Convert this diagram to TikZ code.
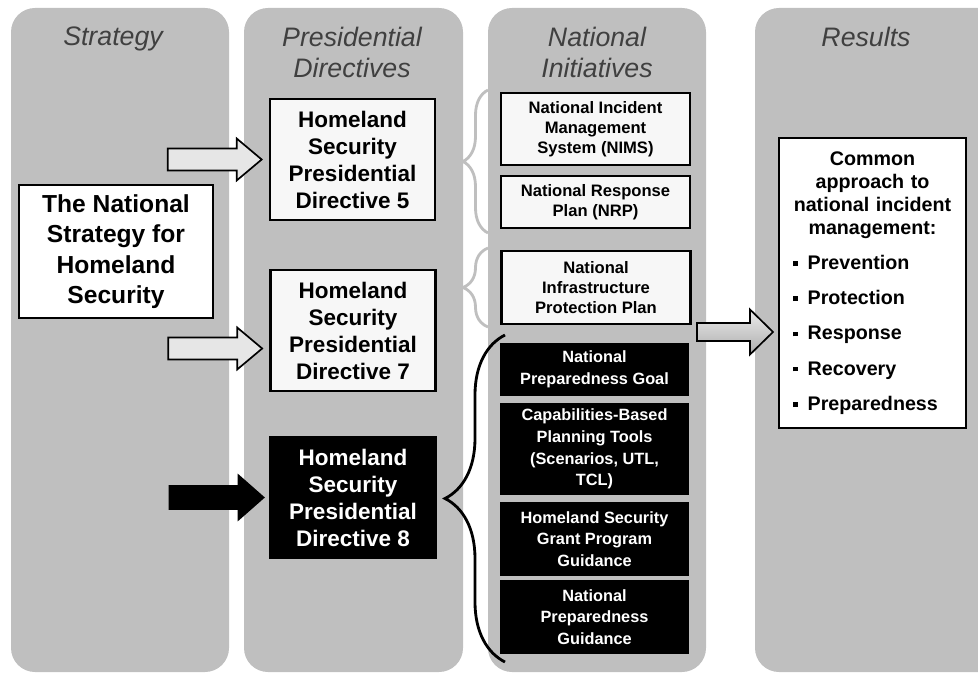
\documentclass[tikz,border=0pt]{standalone}
\usepackage{fontspec}
\setmainfont{Liberation Sans}
\usetikzlibrary{decorations.pathreplacing}

\definecolor{colgray}{HTML}{BFBFBF}
\definecolor{headgray}{HTML}{404040}
\definecolor{boxwhite}{HTML}{F7F7F7}
\definecolor{arrowgray}{HTML}{E6E6E6}

% block arrow: style, tip, head half width, shaft half width, head length, shaft length
\newcommand{\blockarrow}[6]{\draw[#1] (#2) -- ++(-#5,-#3) -- ++(0,#3-#4) -- ++(-#6,0) -- ++(0,2*#4) -- ++(#6,0) -- ++(0,#3-#4) -- cycle;}
\newcommand{\sqbullet}{\rule[2.6pt]{3.4pt}{3.4pt}\hspace{7pt}}

\begin{document}
\begin{tikzpicture}[x=0.025cm,y=-0.025cm,
    col/.style={fill=colgray,rounded corners=0.6cm},
    head/.style={anchor=north,inner sep=0,align=center,text=headgray,font=\fontsize{19}{22}\selectfont\itshape},
    pdbox/.style={draw,line width=1.8pt,fill=boxwhite,minimum width=4.125cm,minimum height=3.025cm,align=center,font=\fontsize{16}{19.2}\selectfont\bfseries},
    initbox/.style={draw,line width=1.5pt,fill=boxwhite,minimum width=4.725cm,align=center,font=\fontsize{11.8}{14.2}\selectfont\bfseries},
    blackbox/.style={fill=black,text=white,minimum width=4.725cm,align=center,font=\fontsize{11.6}{15.4}\selectfont\bfseries},
    lightbrace/.style={draw=colgray,line width=2pt,decorate,decoration={brace,amplitude=0.625cm}},
    blackbrace/.style={draw=black,line width=2pt,decorate,decoration={brace,amplitude=1.5cm}}
  ]
  \useasboundingbox (0,0) rectangle (978,675);
  \clip (0,0) rectangle (978,675);

  % columns
  \fill[col] (11,8) rectangle (229,672);
  \fill[col] (244,8) rectangle (463,672);
  \fill[col] (488,8) rectangle (706,672);
  \fill[col] (755,8) rectangle (1010,672);

  \node[head] (hstrat) at (113,27) {Strategy};
  \node[head] (hpd) at (352,27) {Presidential\\Directives};
  \node[head] (hinit) at (597,27) {National\\Initiatives};
  \node[head] (hres) at (866,27) {Results};

  % strategy and directives
  \node[pdbox,fill=white,minimum width=4.85cm,minimum height=3.325cm,font=\fontsize{17.5}{21.7}\selectfont\bfseries] (strat) at (116,251.5) {The National\\Strategy for\\Homeland\\Security};
  \node[pdbox] (hspd5) at (352.5,159.5) {Homeland\\Security\\Presidential\\Directive 5};
  \node[pdbox] (hspd7) at (353,330.5) {Homeland\\Security\\Presidential\\Directive 7};
  \node[pdbox,fill=black,text=white] (hspd8) at (353,497.5) {Homeland\\Security\\Presidential\\Directive 8};

  \blockarrow{draw,line width=1.2pt,fill=arrowgray}{[xshift=-5pt]hspd5.west}{21}{11}{25}{69}
  \blockarrow{draw,line width=1.2pt,fill=arrowgray}{[xshift=-5pt,yshift=-12.8pt]hspd7.west}{21}{11}{25}{69}
  \blockarrow{draw,line width=1.2pt,fill=black}{[xshift=-4pt]hspd8.west}{22}{11.5}{25}{69}

  % initiatives
  \node[initbox,minimum height=1.8cm] (nims) at (595.5,129) {National Incident\\Management\\System (NIMS)};
  \node[initbox,minimum height=1.3cm] (nrp) at (595.5,202) {National Response\\Plan (NRP)};
  \node[initbox,minimum height=1.825cm] (nipp) at (596,287.5) {National\\Infrastructure\\Protection Plan};
  \node[blackbox,minimum height=1.325cm] (npg) at (594.5,369.5) {National\\Preparedness Goal};
  \node[blackbox,minimum height=2.3cm] (cbpt) at (594.5,449) {Capabilities-Based\\Planning Tools\\(Scenarios, UTL,\\TCL)};
  \node[blackbox,minimum height=1.85cm] (grant) at (594.5,539) {Homeland Security\\Grant Program\\Guidance};
  \node[blackbox,minimum height=1.85cm] (npguid) at (594.5,617) {National\\Preparedness\\Guidance};

  \draw[lightbrace] (488,233) -- (488,90);
  \draw[lightbrace] (488,327) -- (488,248);
  \draw[blackbrace] (505,662) -- (505,335);

  % results
  \node[draw,line width=1.8pt,fill=white,text width=4.675cm,inner sep=0,minimum height=7.25cm,font=\fontsize{14}{16.4}\selectfont\bfseries] (results) at (872.5,283) {\centering Common\\approach to\\national incident\\management:\par
    \raggedright\vspace{8.6pt}
    \hspace*{10pt}\sqbullet Prevention\\[8.6pt]
    \hspace*{10pt}\sqbullet Protection\\[8.6pt]
    \hspace*{10pt}\sqbullet Response\\[8.6pt]
    \hspace*{10pt}\sqbullet Recovery\\[8.6pt]
    \hspace*{10pt}\sqbullet Preparedness\par};

  \coordinate (rtip) at (773,332);
  \blockarrow{draw,line width=1.2pt,top color=gray!15,bottom color=gray!65}{rtip}{22.5}{9}{23}{53}
\end{tikzpicture}
\end{document}
